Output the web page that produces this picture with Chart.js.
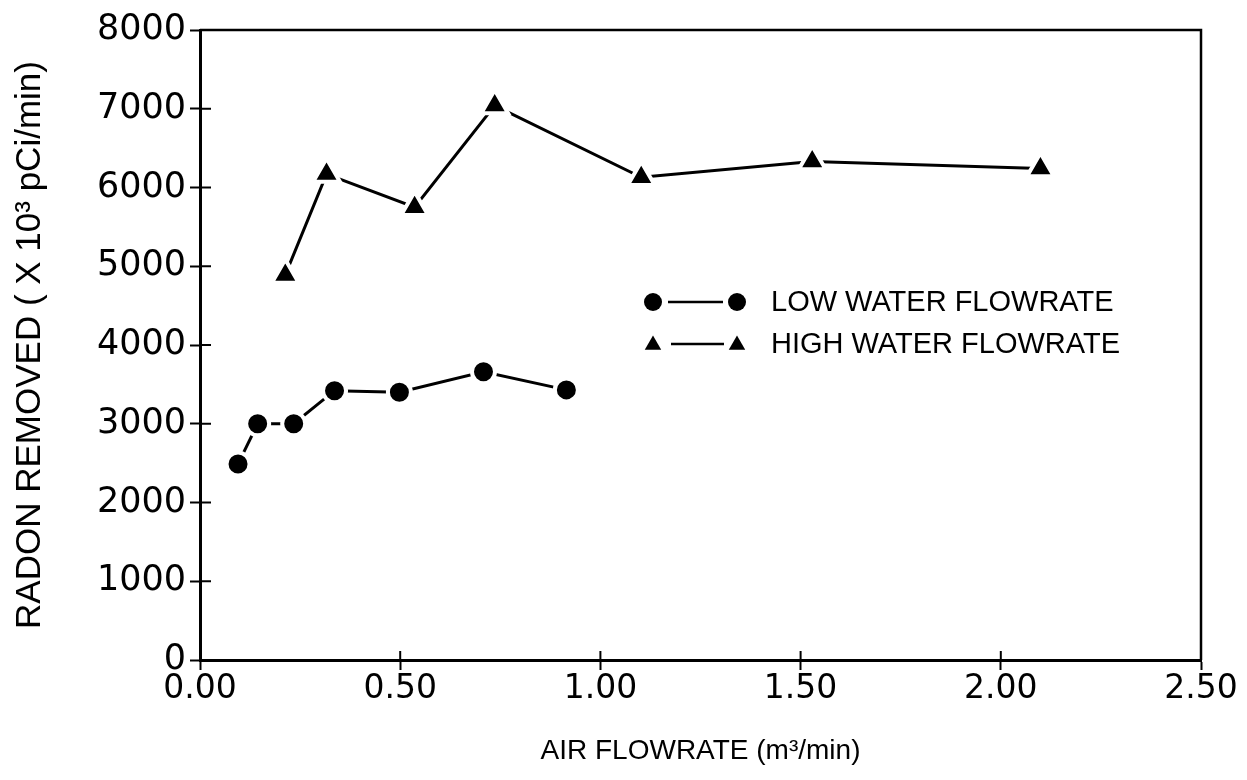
<!DOCTYPE html>
<html><head><meta charset="utf-8">
<script src="https://cdn.jsdelivr.net/npm/chart.js@4.4.1/dist/chart.umd.min.js"></script>
<style>html,body{margin:0;padding:0;background:#fff;} #wrap{width:1247px;height:780px;} canvas{display:block;}</style>
</head><body>
<div id="wrap"><canvas id="c" width="1247" height="780"></canvas></div>
<script>
// ---- data ----
const lowX  = [0.095, 0.144, 0.234, 0.336, 0.498, 0.708, 0.915];
const lowY  = [2490, 3000, 3000, 3420, 3400, 3660, 3430];
const highX = [0.213, 0.316, 0.536, 0.736, 1.102, 1.529, 2.099];
const highY = [4890, 6170, 5750, 7040, 6130, 6330, 6240];
const seriesNames = ['LOW WATER FLOWRATE', 'HIGH WATER FLOWRATE'];
const xTickValues = [0, 0.5, 1.0, 1.5, 2.0, 2.5];
const yTickValues = [0, 1000, 2000, 3000, 4000, 5000, 6000, 7000, 8000];
const xTitle = 'AIR FLOWRATE (m\u00B3/min)';
const yTitle = 'RADON REMOVED ( X 10\u00B3 pCi/min)';

const toPts = (xs, ys) => xs.map((v, i) => ({x: v, y: ys[i]}));

function drawTri(ctx, x, y, r) {
  ctx.beginPath();
  for (let k = 0; k < 3; k++) {
    const a = k * 2 * Math.PI / 3;
    const px = x + Math.sin(a) * r, py = y - Math.cos(a) * r;
    if (k === 0) ctx.moveTo(px, py); else ctx.lineTo(px, py);
  }
  ctx.closePath();
  ctx.fill();
}

const framePlugin = {
  id: 'frame',
  afterDraw(chart) {
    const {ctx, chartArea: a, scales: {x, y}} = chart;
    ctx.save();
    ctx.strokeStyle = '#000';
    ctx.fillStyle = '#000';
    ctx.lineWidth = 2.5;
    ctx.beginPath();
    ctx.moveTo(a.left, a.top);
    ctx.lineTo(a.right, a.top);
    ctx.lineTo(a.right, a.bottom);
    ctx.stroke();
    // inner halves of the tick marks
    ctx.lineWidth = 2;
    x.ticks.forEach((t, i) => {
      const px = x.getPixelForTick(i);
      ctx.beginPath(); ctx.moveTo(px, a.bottom); ctx.lineTo(px, a.bottom - 9); ctx.stroke();
    });
    y.ticks.forEach((t, i) => {
      const py = y.getPixelForTick(i);
      ctx.beginPath(); ctx.moveTo(a.left, py); ctx.lineTo(a.left + 11, py); ctx.stroke();
    });
    // legend
    const lx = 653, lx2 = 737, tx = 771;
    const rows = [302, 344];
    ctx.lineWidth = 2.5;
    ctx.font = '29px "Liberation Sans", Arial, sans-serif';
    ctx.textBaseline = 'middle';
    ctx.textAlign = 'left';
    // low
    ctx.beginPath(); ctx.arc(lx, rows[0], 9, 0, Math.PI * 2); ctx.fill();
    ctx.beginPath(); ctx.arc(lx2, rows[0], 9, 0, Math.PI * 2); ctx.fill();
    ctx.beginPath(); ctx.moveTo(668, rows[0]); ctx.lineTo(723, rows[0]); ctx.stroke();
    ctx.fillText(seriesNames[0], tx, rows[0] + 1);
    // high
    drawTri(ctx, lx, rows[1] + 1, 9.5);
    drawTri(ctx, lx2, rows[1] + 1, 9.5);
    ctx.beginPath(); ctx.moveTo(671, rows[1]); ctx.lineTo(724, rows[1]); ctx.stroke();
    ctx.fillText(seriesNames[1], tx, rows[1] + 1);
    ctx.restore();
  }
};

new Chart(document.getElementById('c'), {
  type: 'scatter',
  data: {
    datasets: [
      {
        label: seriesNames[0],
        data: toPts(lowX, lowY),
        showLine: true,
        borderColor: '#000',
        borderWidth: 3,
        pointStyle: 'circle',
        pointRadius: 11.5,
        pointBackgroundColor: '#000',
        pointBorderColor: '#fff',
        pointBorderWidth: 4
      },
      {
        label: seriesNames[1],
        data: toPts(highX, highY),
        showLine: true,
        borderColor: '#000',
        borderWidth: 3,
        pointStyle: 'triangle',
        pointRadius: 15.5,
        pointBackgroundColor: '#000',
        pointBorderColor: '#fff',
        pointBorderWidth: 4
      }
    ]
  },
  options: {
    responsive: false,
    animation: false,
    events: [],
    layout: {padding: {top: 30, right: 46, left: 0, bottom: 0}},
    plugins: {legend: {display: false}, tooltip: {enabled: false}},
    scales: {
      x: {
        type: 'linear',
        min: 0, max: 2.5,
        afterBuildTicks: s => { s.ticks = xTickValues.map(v => ({value: v})); },
        afterFit: s => { s.height = 120; },
        grid: {drawOnChartArea: false, drawTicks: true, tickLength: 10, tickWidth: 2, tickColor: '#000'},
        border: {display: true, color: '#000', width: 3},
        ticks: {color: '#000', font: {family: '"DejaVu Sans", sans-serif', size: 33}, padding: 0, maxRotation: 0,
                callback: v => Number(v).toFixed(2)},
        title: {display: true, text: xTitle, color: '#000',
                font: {family: '"Liberation Sans", Arial, sans-serif', size: 28},
                padding: {top: 0, bottom: 12}}
      },
      y: {
        type: 'linear',
        min: 0, max: 8000,
        afterBuildTicks: s => { s.ticks = yTickValues.map(v => ({value: v})); },
        afterFit: s => { s.width = 200; },
        grid: {drawOnChartArea: false, drawTicks: true, tickLength: 10, tickWidth: 2, tickColor: '#000'},
        border: {display: true, color: '#000', width: 3},
        ticks: {color: '#000', font: {family: '"DejaVu Sans", sans-serif', size: 35}, padding: 4, callback: v => String(v)},
        title: {display: true, text: yTitle, color: '#000',
                font: {family: '"Liberation Sans", Arial, sans-serif', size: 35},
                padding: {top: 9, bottom: 0}}
      }
    }
  },
  plugins: [framePlugin]
});
</script>
</body></html>
